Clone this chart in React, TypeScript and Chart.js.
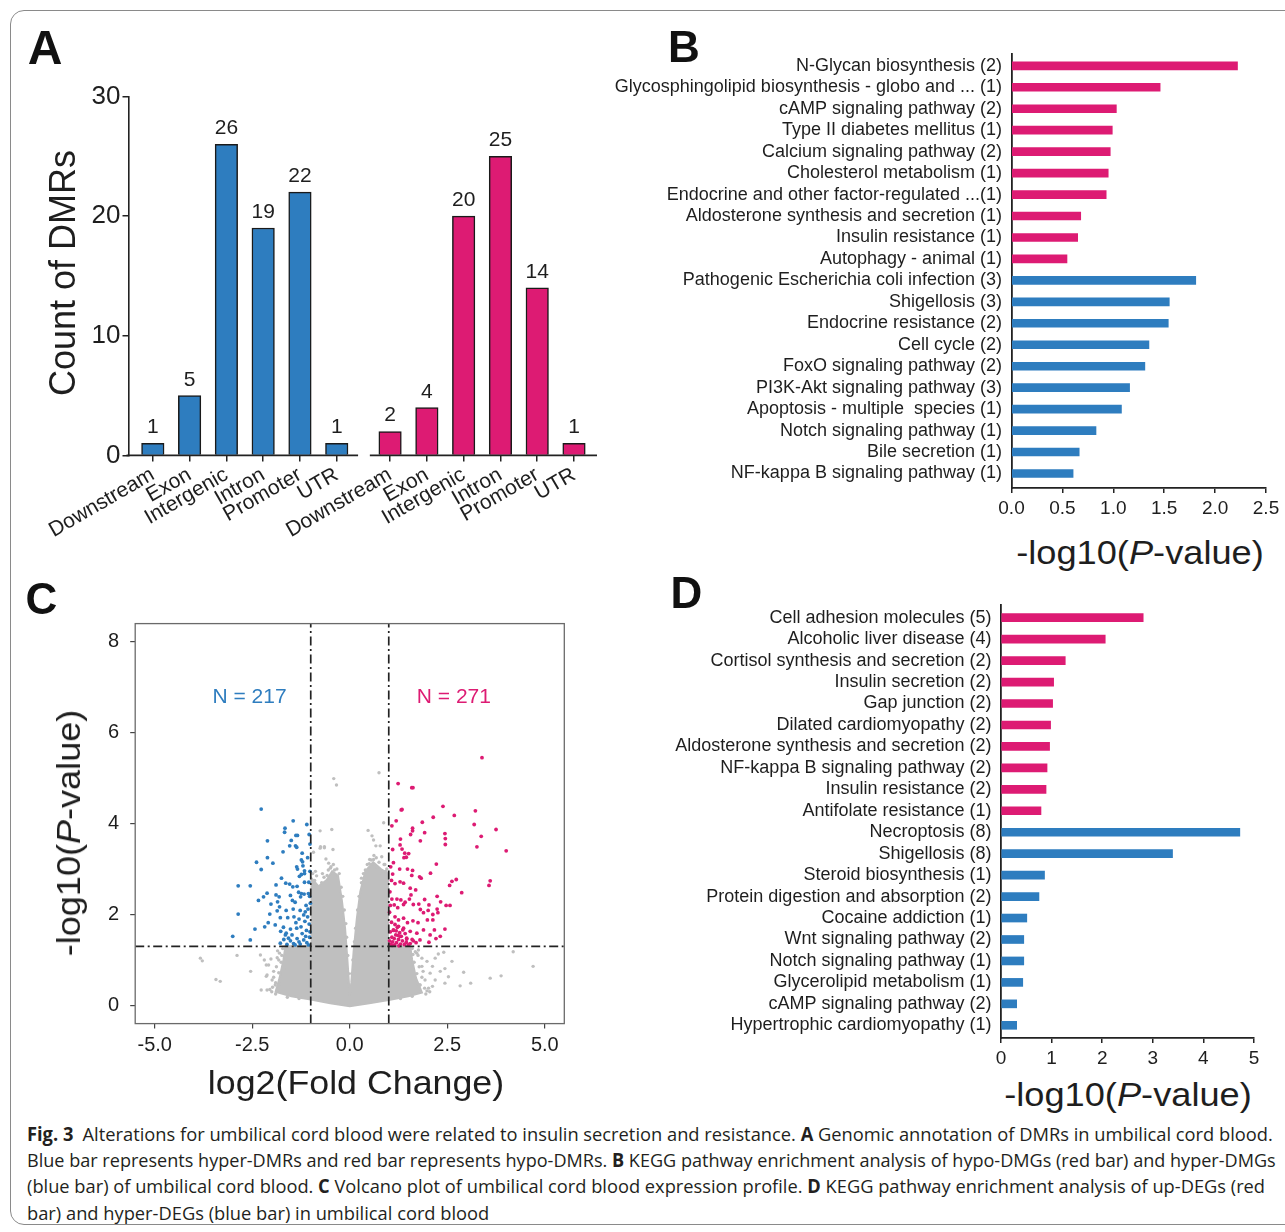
import React, { useEffect, useLayoutEffect, useRef } from 'react';
import { Chart, registerables } from 'chart.js';

Chart.register(...registerables);

const FONT = '"Liberation Sans", Arial, Helvetica, sans-serif';
const CAPTION_FONT = '"Open Sans", "Noto Sans", sans-serif';
const TEXT = '#1e1e1e';
const BLUE = '#2e7dbf';
const PINK = '#dd1b73';
const GRAY_DOT = '#bfbfbf';

// ---------------- Panel A data ----------------
const regionCategories = ['Downstream', 'Exon', 'Intergenic', 'Intron', 'Promoter', 'UTR'];
const hyperDMRCounts = [1, 5, 26, 19, 22, 1];
const hypoDMRCounts = [2, 4, 20, 25, 14, 1];
const dmrCountTicks = [0, 10, 20, 30];

// ---------------- Panel B data ----------------
const hypoDMGPathways = [
  'N-Glycan biosynthesis (2)',
  'Glycosphingolipid biosynthesis - globo and ... (1)',
  'cAMP signaling pathway (2)',
  'Type II diabetes mellitus (1)',
  'Calcium signaling pathway (2)',
  'Cholesterol metabolism (1)',
  'Endocrine and other factor-regulated ...(1)',
  'Aldosterone synthesis and secretion (1)',
  'Insulin resistance (1)',
  'Autophagy - animal (1)',
];
const hypoDMGLogP = [2.22, 1.46, 1.03, 0.99, 0.97, 0.95, 0.93, 0.68, 0.65, 0.545];
const hyperDMGPathways = [
  'Pathogenic Escherichia coli infection (3)',
  'Shigellosis (3)',
  'Endocrine resistance (2)',
  'Cell cycle (2)',
  'FoxO signaling pathway (2)',
  'PI3K-Akt signaling pathway (3)',
  'Apoptosis - multiple  species (1)',
  'Notch signaling pathway (1)',
  'Bile secretion (1)',
  'NF-kappa B signaling pathway (1)',
];
const hyperDMGLogP = [1.81, 1.55, 1.54, 1.35, 1.31, 1.16, 1.08, 0.83, 0.665, 0.605];
const dmgAxisTicks = [0, 0.5, 1, 1.5, 2, 2.5];

// ---------------- Panel C data ----------------
const downDEGPoints: [number, number][] = [
  [-2.27, 4.32], [-1.45, 4.06], [-1.10, 3.98], [-1.66, 3.90], [-1.67, 3.81], [-1.34, 3.74], [-1.38, 3.74],
  [-1.04, 3.76], [-2.11, 3.62], [-1.50, 3.63], [-1.54, 3.51], [-1.39, 3.51], [-1.36, 3.48], [-1.71, 3.38],
  [-1.22, 3.35], [-2.11, 3.25], [-1.24, 3.20], [-1.21, 3.16], [-2.39, 3.15], [-1.97, 3.13], [-2.27, 2.99],
  [-1.36, 3.05], [-1.34, 3.00], [-1.20, 3.07], [-1.16, 2.96], [-1.24, 2.88], [-1.16, 2.90], [-1.75, 2.80],
  [-1.29, 2.84], [-1.64, 2.69], [-1.54, 2.67], [-1.46, 2.61], [-1.35, 2.62], [-1.16, 2.71], [-1.05, 2.71],
  [-1.89, 2.65], [-2.86, 2.63], [-2.55, 2.63], [-1.31, 2.49], [-1.24, 2.46], [-1.06, 2.46], [-2.12, 2.47],
  [-2.34, 2.31], [-2.21, 2.39], [-1.89, 2.43], [-1.81, 2.39], [-1.52, 2.42], [-1.47, 2.31], [-1.40, 2.27],
  [-1.26, 2.39], [-1.17, 2.45], [-2.02, 2.23], [-1.85, 2.28], [-1.80, 2.17], [-2.86, 2.01], [-2.05, 2.01],
  [-1.86, 2.08], [-1.63, 2.09], [-1.45, 2.12], [-1.27, 2.09], [-1.14, 2.06], [-1.07, 2.12], [-2.43, 1.68],
  [-2.18, 1.73], [-2.09, 1.82], [-1.91, 1.77], [-1.78, 1.93], [-1.59, 1.93], [-1.43, 1.95], [-1.30, 1.90],
  [-1.18, 1.99], [-3.00, 1.52], [-2.55, 1.44], [-1.77, 1.63], [-1.63, 1.59], [-1.52, 1.68], [-1.36, 1.70],
  [-1.25, 1.73], [-1.11, 1.65], [-1.04, 1.79], [-1.78, 1.37], [-1.69, 1.45], [-1.61, 1.34], [-1.52, 1.42],
  [-1.44, 1.36], [-1.35, 1.47], [-1.27, 1.35], [-1.18, 1.44], [-1.10, 1.38], [-1.03, 1.50], [-1.48, 1.55],
  [-1.22, 1.58], [-1.06, 1.33], [-1.40, 1.33], [-1.65, 1.55], [-1.30, 1.40], [-1.13, 1.52], [-1.57, 1.48],
  [-1.02, 1.62], [-1.15, 1.85], [-1.08, 1.95], [-1.38, 1.82], [-1.70, 1.72], [-1.01, 2.25], [-1.03, 2.40],
  [-1.12, 2.20], [-1.02, 2.95], [-1.08, 3.25], [-1.02, 3.55],
];
const upDEGPoints: [number, number][] = [
  [3.39, 5.45], [1.24, 4.88], [1.59, 4.79], [1.62, 4.79], [1.32, 4.30], [1.34, 4.31], [2.39, 4.38],
  [3.22, 4.28], [2.68, 4.18], [2.14, 4.14], [1.19, 4.06], [1.86, 4.03], [3.19, 3.98], [1.08, 3.95],
  [1.61, 3.90], [1.61, 3.84], [1.56, 3.76], [1.92, 3.80], [3.75, 3.87], [2.44, 3.78], [2.45, 3.67],
  [2.45, 3.54], [3.37, 3.72], [1.30, 3.66], [1.29, 3.53], [1.34, 3.44], [1.81, 3.62], [3.26, 3.49],
  [4.01, 3.40], [1.10, 3.43], [1.41, 3.35], [1.51, 3.34], [1.45, 3.26], [1.39, 3.25], [1.12, 3.14],
  [2.22, 3.11], [1.48, 3.00], [1.28, 3.00], [1.61, 2.97], [1.59, 2.86], [2.07, 2.91], [1.79, 2.83],
  [1.83, 2.80], [1.10, 2.89], [1.07, 2.75], [1.16, 2.68], [1.29, 2.72], [1.38, 2.69], [2.73, 2.77],
  [2.62, 2.73], [2.56, 2.64], [3.60, 2.74], [3.57, 2.64], [2.87, 2.48], [1.55, 2.58], [1.57, 2.43],
  [1.53, 2.34], [1.69, 2.54], [1.92, 2.33], [2.24, 2.40], [2.33, 2.28], [2.47, 2.20], [2.57, 2.20],
  [1.08, 2.34], [1.21, 2.34], [1.31, 2.32], [1.42, 2.27], [1.14, 2.21], [1.23, 2.15], [1.38, 2.22],
  [1.63, 2.22], [1.77, 2.23], [2.03, 2.21], [2.24, 2.12], [2.26, 2.04], [2.13, 2.00], [2.01, 2.09],
  [1.81, 2.11], [1.89, 2.04], [2.44, 1.68], [2.32, 1.52], [2.17, 1.66], [2.21, 1.47], [2.13, 1.88],
  [1.99, 1.88], [1.75, 1.82], [1.62, 1.86], [1.48, 1.82], [1.38, 1.92], [1.25, 1.88], [1.16, 1.95],
  [1.07, 1.83], [2.06, 1.55], [1.89, 1.66], [1.72, 1.59], [1.55, 1.63], [1.38, 1.70], [1.25, 1.74],
  [1.12, 1.66], [2.03, 1.39], [1.80, 1.44], [1.63, 1.42], [1.46, 1.46], [1.29, 1.52], [1.05, 1.35],
  [1.10, 1.40], [1.15, 1.33], [1.20, 1.38], [1.25, 1.45], [1.30, 1.35], [1.35, 1.42], [1.40, 1.34],
  [1.45, 1.39], [1.50, 1.33], [1.08, 1.50], [1.18, 1.55], [1.28, 1.60], [1.12, 1.65], [1.22, 1.72],
  [1.32, 1.52], [1.42, 1.58], [1.55, 1.36], [1.60, 1.45], [1.70, 1.38], [1.16, 1.78], [1.04, 1.62],
  [1.26, 1.31], [1.36, 1.66], [1.02, 1.42], [1.14, 1.47], [1.24, 1.54], [1.09, 1.32], [1.19, 1.64],
  [1.46, 1.48], [1.02, 2.05], [1.04, 2.20], [1.03, 2.50], [1.05, 3.05],
];
const nonSigPoints: [number, number][] = [
  [-0.41, 4.99], [-0.34, 4.85], [0.75, 5.12], [-0.46, 3.87], [0.47, 3.85], [0.87, 4.02], [-0.65, 3.49],
  [-0.75, 3.49], [0.57, 3.73], [0.61, 3.64], [0.67, 3.51], [0.78, 3.51], [0.82, 3.27], [0.51, 3.21],
  [0.61, 3.21], [0.57, 3.05], [0.40, 2.98], [0.70, 3.04], [0.78, 2.91], [-0.93, 3.37], [-0.76, 3.46],
  [-0.65, 3.47], [-0.43, 3.43], [-0.61, 3.22], [-0.54, 3.13], [-0.39, 2.98], [-0.37, 2.87], [-0.50, 3.02],
  [-0.76, 3.84], [-3.83, 1.04], [-3.78, 0.98], [-3.43, 0.57], [-3.32, 0.53], [-2.89, 1.10], [-2.54, 0.75],
  [-2.27, 0.34], [-2.29, 1.11], [-2.19, 1.00], [-2.08, 0.89], [-2.14, 0.64], [-1.99, 0.56], [-1.91, 0.45],
  [-2.12, 0.34], [-1.86, 0.34], [-1.95, 0.75], [-1.82, 1.00], [-2.12, 0.67], [-2.02, 1.02], [-2.14, 0.89],
  [4.19, 1.18], [4.70, 0.86], [3.88, 0.65], [3.60, 0.60], [3.10, 0.49], [2.92, 0.73], [2.83, 0.43],
  [2.62, 0.97], [2.44, 0.81], [2.53, 0.63], [2.41, 1.17], [2.27, 1.13], [2.19, 0.56], [2.12, 0.42],
  [1.72, 1.15], [1.85, 1.04], [1.98, 0.97], [2.12, 0.86], [2.06, 0.71], [1.93, 0.56], [1.80, 0.45],
  [2.19, 1.04], [2.32, 0.75], [2.02, 0.38], [2.44, 0.49], [1.85, 0.86], [-1.72, 1.25], [-1.80, 1.15],
  [-1.85, 1.20], [-1.76, 0.95], [-1.88, 0.85], [-1.82, 0.72], [-1.95, 0.62], [-1.90, 0.50], [-1.98, 0.40],
  [-1.74, 1.10], [-1.68, 0.80], [-1.79, 0.48], [-2.00, 0.30], [-1.86, 1.05], [1.60, 1.25], [1.68, 1.18],
  [1.75, 1.10], [1.65, 0.95], [1.78, 0.85], [1.72, 0.70], [1.85, 0.62], [1.80, 0.45], [1.92, 0.38],
  [1.62, 1.12], [1.88, 0.75], [1.70, 0.50], [1.98, 0.32], [1.76, 1.22], [-0.88, 2.95], [-0.70, 2.90],
  [-0.55, 2.98], [0.30, 2.80], [0.50, 3.12], [0.88, 3.10], [0.92, 2.95],
  [-0.95, 2.90], [-0.90, 2.75], [-0.85, 2.85], [-0.72, 2.70], [-0.66, 2.82], [-0.58, 2.86], [-0.48, 3.05],
  [-0.42, 3.10], [-0.33, 3.00], [-0.27, 2.90], [-0.22, 2.60], [-0.18, 2.40], [-0.14, 2.10], [-0.10, 1.80],
  [-0.08, 1.50], [-0.05, 1.10], [-0.03, 0.70], [0.95, 3.00], [0.90, 3.10], [0.85, 2.95], [0.75, 3.15],
  [0.68, 3.25], [0.62, 3.30], [0.55, 3.20], [0.45, 3.10], [0.35, 2.90], [0.30, 2.70], [0.24, 2.40],
  [0.20, 2.10], [0.15, 1.70], [0.12, 1.40], [0.08, 1.00], [0.05, 0.70], [-1.90, 0.25], [-1.60, 0.18],
  [-1.30, 0.15], [1.30, 0.15], [1.60, 0.20], [1.95, 0.25], [-2.05, 0.35], [2.05, 0.30],
];
const nonSigDenseOutline: [number, number][] = [
  [0, 0.22], [-0.06, 1.0], [-0.12, 1.7], [-0.2, 2.3], [-0.3, 2.85], [-0.45, 2.95], [-0.6, 2.75],
  [-0.8, 2.62], [-0.98, 2.8], [-0.98, 1.3], [-1.65, 1.3], [-1.7, 1.0], [-1.8, 0.6], [-1.9, 0.3],
  [-1.5, 0.2], [-1.0, 0.13], [-0.5, 0.05], [0, -0.02], [0.5, 0.05], [1.0, 0.12], [1.5, 0.2],
  [1.85, 0.28], [1.7, 0.6], [1.6, 1.0], [1.55, 1.3], [0.98, 1.3], [0.98, 2.9], [0.8, 3.0],
  [0.6, 3.15], [0.4, 2.95], [0.27, 2.5], [0.18, 1.9], [0.1, 1.2], [0.04, 0.5], [0, 0.22],
];
const foldChangeCutoffs = [-1, 1];
const pValueCutoff = 1.3;
const foldChangeTicks = [-5, -2.5, 0, 2.5, 5];
const logPTicks = [0, 2, 4, 6, 8];
const downCountLabel = 'N = 217';
const upCountLabel = 'N = 271';

// ---------------- Panel D data ----------------
const upDEGPathways = [
  'Cell adhesion molecules (5)',
  'Alcoholic liver disease (4)',
  'Cortisol synthesis and secretion (2)',
  'Insulin secretion (2)',
  'Gap junction (2)',
  'Dilated cardiomyopathy (2)',
  'Aldosterone synthesis and secretion (2)',
  'NF-kappa B signaling pathway (2)',
  'Insulin resistance (2)',
  'Antifolate resistance (1)',
];
const upDEGLogP = [2.81, 2.06, 1.27, 1.04, 1.02, 0.98, 0.96, 0.91, 0.89, 0.79];
const hyperDEGPathways = [
  'Necroptosis (8)',
  'Shigellosis (8)',
  'Steroid biosynthesis (1)',
  'Protein digestion and absorption (2)',
  'Cocaine addiction (1)',
  'Wnt signaling pathway (2)',
  'Notch signaling pathway (1)',
  'Glycerolipid metabolism (1)',
  'cAMP signaling pathway (2)',
  'Hypertrophic cardiomyopathy (1)',
];
const hyperDEGLogP = [4.72, 3.39, 0.86, 0.75, 0.51, 0.45, 0.45, 0.43, 0.31, 0.31];
const degAxisTicks = [0, 1, 2, 3, 4, 5];

// ---------------- helpers ----------------
const GROUP_OFFSET = 6.45;

function fixTicks(values: number[]) {
  return (axis: any) => {
    axis.ticks = values.map((v) => ({ value: v }));
  };
}

const baseOptions = {
  responsive: false,
  animation: false as const,
  events: [] as any[],
  plugins: { legend: { display: false }, tooltip: { enabled: false } },
};

function ChartCanvas({ left, top, width, height, make }: any) {
  const ref = useRef<HTMLCanvasElement>(null);
  useEffect(() => {
    const chart = make(ref.current);
    return () => chart.destroy();
  }, []);
  return (
    <canvas
      ref={ref}
      width={width}
      height={height}
      style={{ position: 'absolute', left, top, width, height }}
    />
  );
}

function FitText({ cx, cy, width, size, rotate = 0, weight = 'normal', color = TEXT, family = FONT, children }: any) {
  const ref = useRef<HTMLSpanElement>(null);
  useLayoutEffect(() => {
    const el = ref.current as HTMLSpanElement;
    const apply = () => {
      const w = el.offsetWidth;
      const s = width && w ? width / w : 1;
      el.style.transform = `translate(-50%, -50%) rotate(${rotate}deg) scaleX(${s})`;
    };
    apply();
    (document as any).fonts?.ready?.then(apply);
  }, []);
  return (
    <span
      ref={ref}
      style={{
        position: 'absolute', left: cx, top: cy, whiteSpace: 'nowrap', fontFamily: family,
        fontSize: size, fontWeight: weight, lineHeight: 1, color, display: 'inline-block',
        transform: `translate(-50%, -50%) rotate(${rotate}deg)`,
      }}
    >
      {children}
    </span>
  );
}

function CaptionLine({ left, baseline, width, children }: any) {
  const ref = useRef<HTMLSpanElement>(null);
  const size = 19;
  useLayoutEffect(() => {
    const el = ref.current as HTMLSpanElement;
    const apply = () => {
      const w = el.offsetWidth;
      el.style.transform = `scaleX(${w ? width / w : 1})`;
    };
    apply();
    (document as any).fonts?.ready?.then(apply);
  }, []);
  return (
    <span
      ref={ref}
      style={{
        position: 'absolute', left, top: baseline - 0.888 * size, whiteSpace: 'nowrap',
        fontFamily: CAPTION_FONT, fontSize: size, lineHeight: 1, color: '#231f20',
        display: 'inline-block', transformOrigin: '0 50%',
      }}
    >
      {children}
    </span>
  );
}

// ---------------- Panel A ----------------
function makePanelA(canvas: HTMLCanvasElement) {
  const leftX = regionCategories.map((_, i) => i);
  const rightX = regionCategories.map((_, i) => i + GROUP_OFFSET);
  const tickLabels = [...regionCategories, ...regionCategories];
  const valueLabels = {
    id: 'valueLabels',
    afterDatasetsDraw(chart: any) {
      const ctx = chart.ctx;
      ctx.save();
      ctx.font = `21px ${FONT}`;
      ctx.fillStyle = TEXT;
      ctx.textAlign = 'center';
      ctx.textBaseline = 'alphabetic';
      chart.data.datasets.forEach((ds: any, di: number) => {
        chart.getDatasetMeta(di).data.forEach((el: any, i: number) => {
          ctx.fillText(String(ds.data[i].y), el.x, el.y - 10);
        });
      });
      ctx.restore();
    },
  };
  const brokenBaseline = {
    id: 'brokenBaseline',
    afterDraw(chart: any) {
      const { ctx, scales } = chart;
      const x = scales.x;
      const y0 = scales.y.getPixelForValue(0);
      ctx.save();
      ctx.strokeStyle = '#222';
      ctx.lineWidth = 1.6;
      const segs = [
        [x.left - 2, x.getPixelForValue(5 + 0.58)],
        [x.getPixelForValue(GROUP_OFFSET - 0.55), x.right],
      ];
      segs.forEach(([a, b]) => {
        ctx.beginPath();
        ctx.moveTo(a, y0);
        ctx.lineTo(b, y0);
        ctx.stroke();
      });
      ctx.restore();
    },
  };
  return new Chart(canvas, {
    type: 'bar',
    data: {
      datasets: [
        {
          data: hyperDMRCounts.map((v, i) => ({ x: leftX[i], y: v })),
          backgroundColor: BLUE, borderColor: '#1a1a1a', borderWidth: 1.5, barThickness: 22.5, grouped: false,
        },
        {
          data: hypoDMRCounts.map((v, i) => ({ x: rightX[i], y: v })),
          backgroundColor: PINK, borderColor: '#1a1a1a', borderWidth: 1.5, barThickness: 22.5, grouped: false,
        },
      ] as any,
    },
    options: {
      ...baseOptions,
      layout: { padding: { left: 0, top: 46.4, right: 23, bottom: 0 } },
      scales: {
        x: {
          type: 'linear', min: -0.661, max: 12.075, offset: false,
          afterBuildTicks: fixTicks([...leftX, ...rightX]),
          afterFit: (axis: any) => { axis.height = 114.6; },
          ticks: {
            autoSkip: false, minRotation: 30, maxRotation: 30, padding: 1,
            font: { family: FONT, size: 21 }, color: TEXT,
            callback: (_v: any, i: number) => tickLabels[i],
          },
          grid: { display: true, offset: false, drawOnChartArea: false, drawTicks: true, tickLength: 6, color: '#222', lineWidth: 1.5 },
          border: { display: false },
        },
        y: {
          min: 0, max: 30,
          afterBuildTicks: fixTicks(dmrCountTicks),
          afterFit: (axis: any) => { axis.width = 128.5; },
          ticks: { font: { family: FONT, size: 26 }, color: TEXT, padding: 2 },
          grid: { drawOnChartArea: false, tickLength: 6, color: '#222', lineWidth: 1.5 },
          border: { display: true, color: '#222', width: 1.6 },
        },
      },
    } as any,
    plugins: [valueLabels, brokenBaseline],
  });
}

// ---------------- horizontal bar panels (B, D) ----------------
function makeHBar(
  canvas: HTMLCanvasElement,
  redLabels: string[], redValues: number[], blueLabels: string[], blueValues: number[],
  ticks: number[], decimals: number,
  geom: { yW: number; xH: number; top: number; right: number; padTop: number; padBottom: number },
) {
  const labels = [...redLabels, ...blueLabels];
  const values = [...redValues, ...blueValues];
  const colors = [...redLabels.map(() => PINK), ...blueLabels.map(() => BLUE)];
  const idx = labels.map((_, i) => i);
  return new Chart(canvas, {
    type: 'bar',
    data: {
      datasets: [{
        data: values.map((v, i) => ({ x: v, y: idx[i] })),
        backgroundColor: colors, barThickness: 8, borderWidth: 0,
      }],
    },
    options: {
      ...baseOptions,
      indexAxis: 'y',
      layout: { padding: { left: 0, top: geom.top, right: geom.right, bottom: 0 } },
      scales: {
        x: {
          type: 'linear', min: ticks[0], max: ticks[ticks.length - 1],
          afterBuildTicks: fixTicks(ticks),
          afterFit: (axis: any) => { axis.height = geom.xH; },
          ticks: {
            font: { family: FONT, size: 19 }, color: TEXT, padding: 4,
            callback: (v: any) => Number(v).toFixed(decimals),
          },
          grid: { drawOnChartArea: false, tickLength: 5, color: '#222', lineWidth: 1.5 },
          border: { display: true, color: '#222', width: 1.8 },
        },
        y: {
          type: 'linear', reverse: true, offset: false,
          min: -geom.padTop, max: labels.length - 1 + geom.padBottom,
          afterBuildTicks: fixTicks(idx),
          afterFit: (axis: any) => { axis.width = geom.yW; },
          ticks: {
            font: { family: FONT, size: 18 }, color: TEXT, padding: 9.5, autoSkip: false,
            callback: (_v: any, i: number) => labels[i],
          },
          grid: { display: true, offset: false, drawOnChartArea: false, drawTicks: false },
          border: { display: true, color: '#222', width: 1.8 },
        },
      },
    } as any,
  });
}

// ---------------- Panel C ----------------
function makePanelC(canvas: HTMLCanvasElement) {
  const toXY = (arr: [number, number][]) => arr.map(([x, y]) => ({ x, y }));
  const frame = {
    id: 'frame',
    afterDraw(chart: any) {
      const { ctx, chartArea: a } = chart;
      ctx.save();
      ctx.strokeStyle = '#6a6a6a';
      ctx.lineWidth = 1.3;
      ctx.strokeRect(a.left, a.top, a.right - a.left, a.bottom - a.top);
      ctx.restore();
    },
  };
  const countLabels = {
    id: 'countLabels',
    afterDatasetsDraw(chart: any) {
      const { ctx, scales } = chart;
      ctx.save();
      ctx.font = `21px ${FONT}`;
      ctx.textAlign = 'center';
      ctx.textBaseline = 'middle';
      ctx.fillStyle = BLUE;
      ctx.fillText(downCountLabel, scales.x.getPixelForValue(-2.57), scales.y.getPixelForValue(6.77));
      ctx.fillStyle = PINK;
      ctx.fillText(upCountLabel, scales.x.getPixelForValue(2.67), scales.y.getPixelForValue(6.77));
      ctx.restore();
    },
  };
  const dash = [9, 3.5, 2, 3.5];
  const cutoffLines = [
    ...foldChangeCutoffs.map((c) => ({
      type: 'line', data: [{ x: c, y: -0.4 }, { x: c, y: 8.4 }], borderColor: '#222', borderWidth: 1.7,
      borderDash: dash, pointRadius: 0, fill: false, order: 0,
    })),
    {
      type: 'line', data: [{ x: -5.5, y: pValueCutoff }, { x: 5.5, y: pValueCutoff }], borderColor: '#222',
      borderWidth: 1.7, borderDash: dash, pointRadius: 0, fill: false, order: 0,
    },
  ];
  return new Chart(canvas, {
    type: 'scatter',
    data: {
      datasets: [
        ...cutoffLines,
        { data: toXY(upDEGPoints), backgroundColor: PINK, borderWidth: 0, pointRadius: 1.9, order: 1 },
        { data: toXY(downDEGPoints), backgroundColor: BLUE, borderWidth: 0, pointRadius: 1.9, order: 1 },
        { data: toXY(nonSigPoints), backgroundColor: GRAY_DOT, borderWidth: 0, pointRadius: 1.7, order: 2 },
        {
          type: 'line', data: toXY(nonSigDenseOutline), backgroundColor: GRAY_DOT, borderColor: GRAY_DOT,
          borderWidth: 2, pointRadius: 0, fill: 'shape', tension: 0, order: 3,
        },
      ] as any,
    },
    options: {
      ...baseOptions,
      layout: { padding: { left: 0, top: 23.6, right: 55.7, bottom: 0 } },
      scales: {
        x: {
          type: 'linear', min: -5.5, max: 5.5,
          afterBuildTicks: fixTicks(foldChangeTicks),
          afterFit: (axis: any) => { axis.height = 46.4; },
          ticks: { font: { family: FONT, size: 20 }, color: TEXT, padding: 5, callback: (v: any) => Number(v).toFixed(1) },
          grid: { drawOnChartArea: false, tickLength: 5, color: '#444', lineWidth: 1.2 },
          border: { display: false },
        },
        y: {
          type: 'linear', min: -0.4, max: 8.4,
          afterBuildTicks: fixTicks(logPTicks),
          afterFit: (axis: any) => { axis.width = 135.2; },
          ticks: { font: { family: FONT, size: 20 }, color: TEXT, padding: 11, callback: (v: any) => String(v) },
          grid: { drawOnChartArea: false, tickLength: 5, color: '#444', lineWidth: 1.2 },
          border: { display: false },
        },
      },
    } as any,
    plugins: [frame, countLabels],
  });
}

const LogPTitle = () => (
  <>
    -log10(<i>P</i>-value)
  </>
);

export default function App() {
  return (
    <div style={{ position: 'absolute', left: 0, top: 0, width: 1285, height: 1232, overflow: 'hidden', background: '#fff' }}>
      <div style={{ position: 'absolute', left: 10, top: 10, width: 1300, height: 1215, border: '1.3px solid #8a8a8a', borderRadius: 14, boxSizing: 'border-box' }} />

      <ChartCanvas left={0} top={50} width={620} height={520} make={makePanelA} />
      <ChartCanvas
        left={600} top={29} width={685} height={501}
        make={(c: HTMLCanvasElement) => makeHBar(c, hypoDMGPathways, hypoDMGLogP, hyperDMGPathways, hyperDMGLogP, dmgAxisTicks, 1,
          { yW: 411.5, xH: 42, top: 24.4, right: 19, padTop: 0.578, padBottom: 0.676 })}
      />
      <ChartCanvas left={0} top={600} width={620} height={470} make={makePanelC} />
      <ChartCanvas
        left={600} top={581} width={685} height={489}
        make={(c: HTMLCanvasElement) => makeHBar(c, upDEGPathways, upDEGLogP, hyperDEGPathways, hyperDEGLogP, degAxisTicks, 0,
          { yW: 401, xH: 32, top: 24, right: 31, padTop: 0.592, padBottom: 0.592 })}
      />

      <FitText cx={45} cy={48} size={48} weight="bold" color="#111">A</FitText>
      <FitText cx={684} cy={47.2} size={44} weight="bold" color="#111">B</FitText>
      <FitText cx={41.5} cy={598.5} size={44} weight="bold" color="#111">C</FitText>
      <FitText cx={686.5} cy={592.8} size={44} weight="bold" color="#111">D</FitText>

      <FitText cx={62.6} cy={273} size={36} rotate={-90} width={246}>Count of DMRs</FitText>
      <FitText cx={1140} cy={552} size={34} width={247}><LogPTitle /></FitText>
      <FitText cx={356} cy={1081.5} size={33} width={296}>log2(Fold Change)</FitText>
      <FitText cx={68.3} cy={833} size={34} rotate={-90} width={246}><LogPTitle /></FitText>
      <FitText cx={1127.5} cy={1093.5} size={34} width={247}><LogPTitle /></FitText>

      <CaptionLine left={27} baseline={1142} width={1246}>
        <b>Fig. 3</b>{'\u2002'}Alterations for umbilical cord blood were related to insulin secretion and resistance. <b>A</b> Genomic annotation of DMRs in umbilical cord blood.
      </CaptionLine>
      <CaptionLine left={27} baseline={1168} width={1249}>
        Blue bar represents hyper-DMRs and red bar represents hypo-DMRs. <b>B</b> KEGG pathway enrichment analysis of hypo-DMGs (red bar) and hyper-DMGs
      </CaptionLine>
      <CaptionLine left={27} baseline={1194} width={1238}>
        (blue bar) of umbilical cord blood. <b>C</b> Volcano plot of umbilical cord blood expression profile. <b>D</b> KEGG pathway enrichment analysis of up-DEGs (red
      </CaptionLine>
      <CaptionLine left={27} baseline={1221} width={462}>
        bar) and hyper-DEGs (blue bar) in umbilical cord blood
      </CaptionLine>
    </div>
  );
}
